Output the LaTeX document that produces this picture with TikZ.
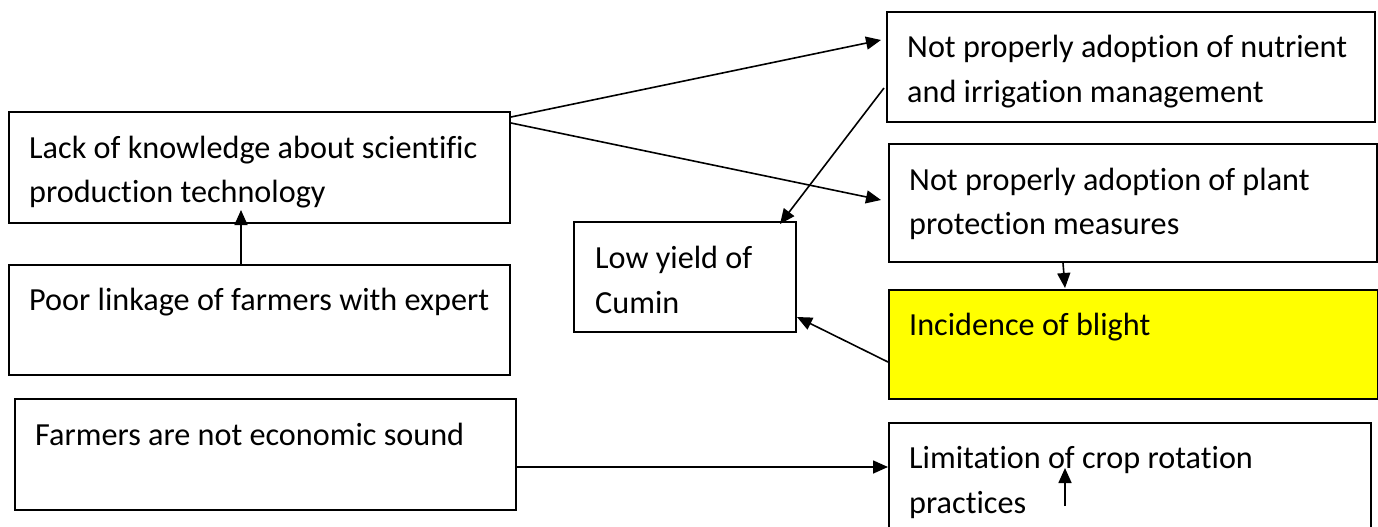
\documentclass[tikz,border=0pt]{standalone}
\usepackage{fontspec}
\setmainfont[Ligatures=NoCommon]{Carlito}
\usetikzlibrary{arrows.meta}
\definecolor{blightyellow}{RGB}{255,255,0}
\begin{document}
\begin{tikzpicture}[x=1pt,y=-1pt,
  box/.style={draw, line width=2pt, rectangle, inner sep=0pt, anchor=north west},
  txt/.style={anchor=base west, inner sep=0pt, font=\fontsize{32.2}{44}\selectfont},
  conn/.style={line width=1.6pt, -{Triangle[length=15pt,width=13pt]}}]
\useasboundingbox (0,0) rectangle (1378,527);
% boxes
\node[box, minimum width=501pt, minimum height=111pt] (lack) at (8,111) {};
\node[box, minimum width=501pt, minimum height=110pt] (poor) at (8,264) {};
\node[box, minimum width=501pt, minimum height=111pt] (econ) at (14,398) {};
\node[box, minimum width=222pt, minimum height=110pt] (low) at (573,221) {};
\node[box, minimum width=488pt, minimum height=110pt] (nutr) at (886,11) {};
\node[box, minimum width=488pt, minimum height=118pt] (prot) at (888,143) {};
\node[box, fill=blightyellow, minimum width=489pt, minimum height=109pt] (blight) at (888,289) {};
\node[box, minimum width=482pt, minimum height=130pt] (rot) at (888,422) {};
% texts
\node[txt] (lack1) at (29,158) {Lack of knowledge about scientific};
\node[txt] (lack2) at (29,202) {production technology};
\node[txt] (poor1) at (29,310) {Poor linkage of farmers with expert};
\node[txt] (econ1) at (35,445) {Farmers are not economic sound};
\node[txt] (low1) at (595,268) {Low yield of};
\node[txt] (low2) at (595,313) {Cumin};
\node[txt] (nutr1) at (907,58) {Not properly adoption of nutrient};
\node[txt] (nutr2) at (907,102) {and irrigation management};
\node[txt] (prot1) at (909,190) {Not properly adoption of plant};
\node[txt] (prot2) at (909,234) {protection measures};
\node[txt] (blight1) at (909,335) {Incidence of blight};
\node[txt] (rot1) at (909,468) {Limitation of crop rotation};
\node[txt] (rot2) at (909,513) {practices};
% connector end points
\coordinate (c1s) at ([yshift=-6pt]lack.north east);
\coordinate (c1e) at ([xshift=-5pt,yshift=-29pt]nutr.north west);
\coordinate (c2s) at ([yshift=-12pt]lack.north east);
\coordinate (c2e) at ([xshift=-7pt,yshift=-57pt]prot.north west);
\coordinate (c3s) at ([xshift=-2pt,yshift=-77pt]nutr.north west);
\coordinate (c3e) at ([xshift=-17pt,yshift=-3pt]low.north east);
\coordinate (c4s) at ([xshift=175pt]prot.south west);
\coordinate (c4e) at ([xshift=177pt,yshift=1pt]blight.north west);
\coordinate (c5s) at ([yshift=-73pt]blight.north west);
\coordinate (c5e) at ([yshift=-96pt]low.north east);
\coordinate (c6s) at ([xshift=233pt]poor.north west);
\coordinate (c6e) at ([xshift=233pt,yshift=14pt]lack.south west);
\coordinate (c7s) at ([yshift=-69pt]econ.north east);
\coordinate (c7e) at ([yshift=-45pt]rot.north west);
\coordinate (c8s) at ([xshift=177pt,yshift=-84pt]rot.north west);
\coordinate (c8e) at ([xshift=177pt,yshift=-46pt]rot.north west);
% connectors
\draw[conn] (c1s) -- (c1e);
\draw[conn] (c2s) -- (c2e);
\draw[conn] (c3s) -- (c3e);
\draw[conn] (c4s) -- (c4e);
\draw[conn] (c5s) -- (c5e);
\draw[conn] (c6s) -- (c6e);
\draw[conn] (c7s) -- (c7e);
\draw[conn] (c8s) -- (c8e);
\end{tikzpicture}
\end{document}
